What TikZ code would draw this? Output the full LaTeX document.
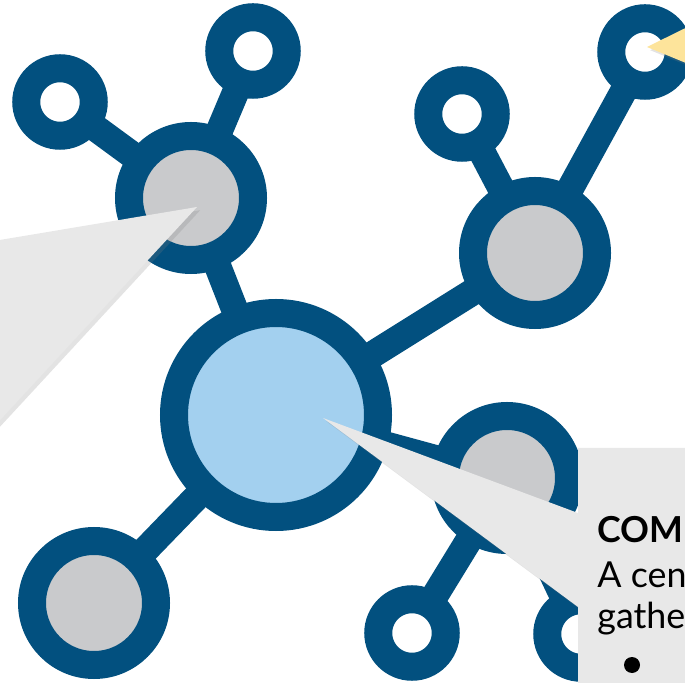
\documentclass[tikz,border=0pt]{standalone}
\usepackage{fontspec}
\setmainfont{Lato}
\usetikzlibrary{shadows, backgrounds}

\definecolor{hubblue}{HTML}{02507F}
\definecolor{hubcore}{HTML}{A3D0EF}
\definecolor{hubgrey}{HTML}{C9CACC}
\definecolor{notegrey}{HTML}{E8E8E8}
\definecolor{noteyellow}{HTML}{FDE49B}

\begin{document}
\begin{tikzpicture}[x=0.5pt, y=-0.5pt,
		ring/.style={circle, draw=hubblue, line width=14pt, inner sep=0pt},
		link/.style={hubblue, line width=13.5pt},
		note/.style={draw=none, drop shadow={opacity=.22, shadow xshift=1.6pt, shadow yshift=-1.6pt}}]
		\useasboundingbox (0,0) rectangle (685,683);
		\clip (0,0) rectangle (685,683);
		\node[ring, fill=hubcore, minimum size=102pt] (hub) at (276,415) {};
		\foreach \x/\y/\alph in {
			191/198/ul,
			535/253/ur,
			507/478/lr,
			94/603/ll}{
		 	\node[ring, fill=hubgrey, minimum size=62pt] (\alph) at (\x,\y) {};
		 }
		\foreach \x/\y/\alph in {
			60/102/ula,
			253/51/ulb,
			462/114/ura,
			645/52/urb,
			412/633/lra,
			581/634/lrb}{
		 	\node[ring, fill=white, minimum size=33.75pt] (\alph) at (\x,\y) {};
		 }
		\begin{pgfonlayer}{background}
		 \foreach \a/\b in {hub/ul, hub/ur, hub/lr, hub/ll, ul/ula, ul/ulb, ur/ura, ur/urb, lr/lra, lr/lrb}
		 {\draw[link] (\a.center) -- (\b.center);}
		\end{pgfonlayer}
		% callouts
		\coordinate (tipl) at (197,207);
		\coordinate (tipr) at (323,418);
		\coordinate (tipy) at (647,47);
		\fill[note, notegrey] (tipl) -- (-60,250) -- (-60,485) -- cycle;
		\fill[note, notegrey] (tipr) -- (578,513) -- (578,448) -- (720,448) -- (720,720) -- (578,720) -- (578,607) -- cycle;
		\fill[note, noteyellow] (tipy) -- (720,11) -- (720,77) -- cycle;
		\foreach \y/\alph/\name in {
			543/t1/{\bfseries COM},
			588/t2/{A cen},
			628/t3/{gathe}}{
		 	\node[anchor=base west, inner sep=0pt, font=\fontsize{17.9}{21}\selectfont] (\alph) at (597,\y) {\name};
		 }
		 \node[circle, fill=black, inner sep=0pt, minimum size=8pt] (dot) at (632,665) {};
\end{tikzpicture}
\end{document}
